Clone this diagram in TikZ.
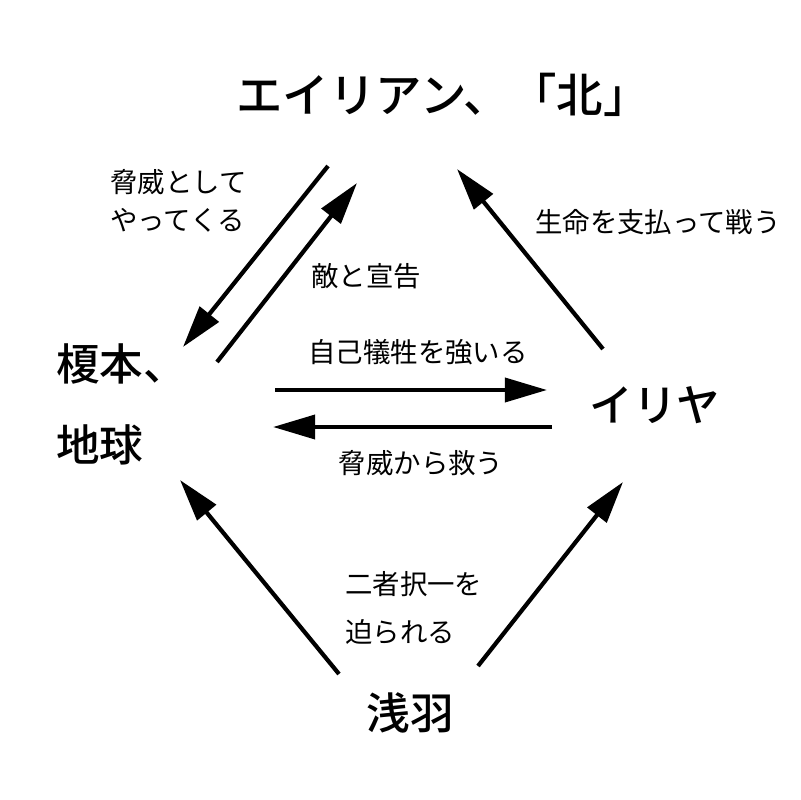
\documentclass[tikz,border=0pt]{standalone}
\usepackage{fontspec}
\setmainfont{Noto Sans CJK JP}
\newfontfamily\jpmedium{Noto Sans CJK JP}[UprightFont=* Medium]
\usetikzlibrary{arrows.meta}

\begin{document}
\begin{tikzpicture}[x=0.025cm, y=-0.025cm,
    big/.style={font=\jpmedium\fontsize{31}{36}\selectfont, inner sep=0pt},
    small/.style={font=\fontsize{19.5}{23}\selectfont, inner sep=0pt},
    arr/.style={line width=3pt, -{Triangle[length=30pt, width=17pt]}}]
    \useasboundingbox (0, 0) rectangle (800, 800);

    \node[big, font=\jpmedium\fontsize{33}{38}\selectfont] at (443, 95) (alien) {エイリアン、「北」};
    \node[big, anchor=west] at (56, 364) (enomoto) {榎本、};
    \node[big, anchor=west] at (56, 445) (earth) {地球};
    \node[big] at (655, 405) (iriya) {イリヤ};
    \node[big] at (410, 713) (asaba) {浅羽};

    \node[small, anchor=west] at (110, 182) (threat1) {脅威として};
    \node[small, anchor=west] at (110, 220) (threat2) {やってくる};
    \node[small] at (366, 276) (enemy) {敵と宣告};
    \node[small] at (418, 352) (sacrifice) {自己犠牲を強いる};
    \node[small] at (421, 463) (rescue) {脅威から救う};
    \node[small] at (658, 222) (fight) {生命を支払って戦う};
    \node[small, anchor=west] at (345, 584) (choice1) {二者択一を};
    \node[small, anchor=west] at (345, 632) (choice2) {迫られる};

    % arrow ends
    \coordinate (a1) at (328, 166);
    \coordinate (e1) at (183, 347);
    \coordinate (e2) at (217, 362);
    \coordinate (a2) at (357, 183);
    \coordinate (e3) at (275, 390);
    \coordinate (i1) at (547, 390);
    \coordinate (i2) at (552, 427);
    \coordinate (e4) at (273, 427);
    \coordinate (i3) at (603, 349);
    \coordinate (a3) at (457, 169);
    \coordinate (s1) at (339, 674);
    \coordinate (e5) at (180, 480);
    \coordinate (s2) at (478, 666);
    \coordinate (i4) at (623, 482);

    \draw[arr] (a1) -- (e1);
    \draw[arr] (e2) -- (a2);
    \draw[arr] (e3) -- (i1);
    \draw[arr] (i2) -- (e4);
    \draw[arr] (i3) -- (a3);
    \draw[arr] (s1) -- (e5);
    \draw[arr] (s2) -- (i4);
\end{tikzpicture}
\end{document}
